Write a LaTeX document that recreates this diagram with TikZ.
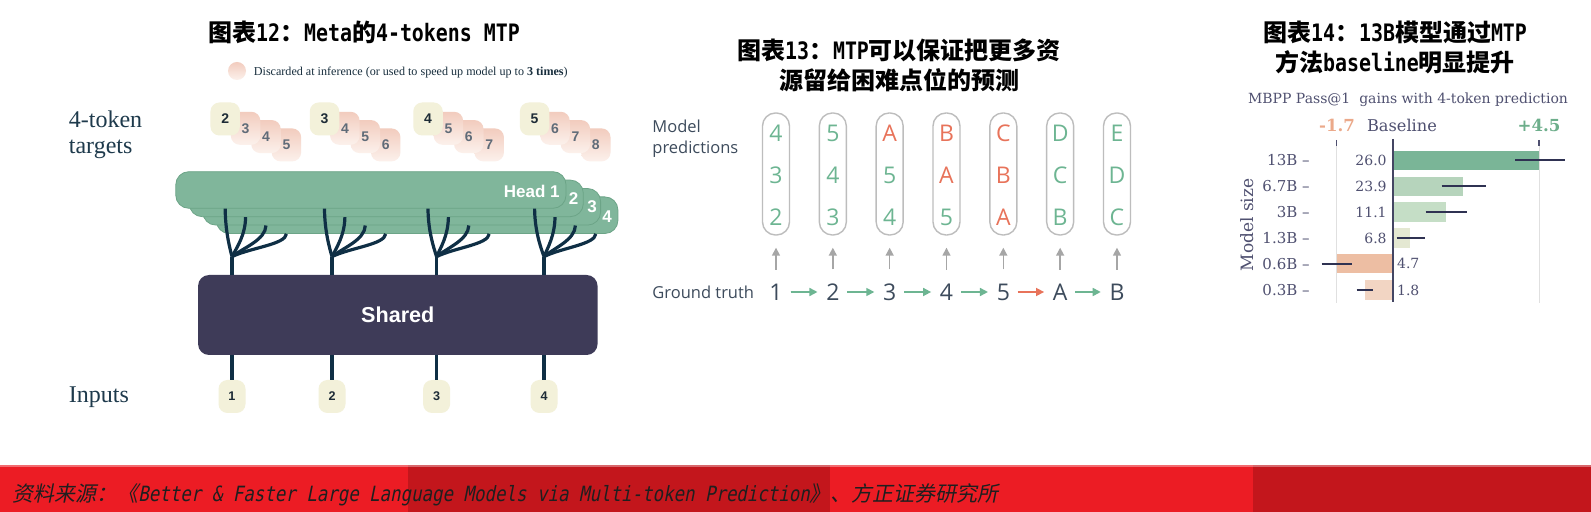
\documentclass[tikz,border=0pt]{standalone}
\usepackage{fontspec}
\usetikzlibrary{arrows.meta}
\setmainfont{Liberation Serif}
\newfontfamily\cjk{Noto Sans CJK SC}
\newfontfamily\cjkit{Noto Sans CJK SC}[FakeSlant=0.2]
\newfontfamily\tmono{DejaVu Sans Mono}[FakeStretch=0.83]
\newfontfamily\monoit{DejaVu Sans Mono}[FakeSlant=0.2,FakeStretch=0.83]
\newfontfamily\lsans{Liberation Sans}
\newfontfamily\osans{Open Sans}
\newfontfamily\dvs{DejaVu Serif}
\newcommand\lat[1]{{\tmono\bfseries #1}}
\pgfdeclarelayer{bg}\pgfdeclarelayer{stems}
\pgfsetlayers{bg,stems,main}
\definecolor{lbg}{HTML}{F4F4F4}
\definecolor{mbg}{HTML}{F8F8F8}
\definecolor{cream}{HTML}{F3F1DA}
\definecolor{pinkA}{HTML}{F2CCBE}
\definecolor{pinkB}{HTML}{FCF1EC}
\definecolor{tokdark}{HTML}{1D2B36}
\definecolor{tokgray}{HTML}{5F6B78}
\definecolor{stemc}{HTML}{3C7E69}
\definecolor{treec}{HTML}{0F2F45}
\definecolor{headc}{HTML}{80B69B}
\definecolor{headd}{HTML}{6CA487}
\definecolor{sharedc}{HTML}{3E3B58}
\definecolor{navy}{HTML}{1E3A4C}
\definecolor{mg}{HTML}{6DB592}
\definecolor{mo}{HTML}{E8735A}
\definecolor{mtext}{HTML}{3D4B5C}
\definecolor{boxc}{HTML}{BDBDBD}
\definecolor{arrg}{HTML}{A6A6A6}
\definecolor{ctext}{HTML}{4F5070}
\definecolor{cneg}{HTML}{EBA98A}
\definecolor{cpos}{HTML}{6DAE8B}
\definecolor{errc}{HTML}{2F3252}
\definecolor{barA}{HTML}{7AB597}
\definecolor{barB}{HTML}{B6D4BC}
\definecolor{barC}{HTML}{C5DEC6}
\definecolor{barD}{HTML}{E4E8D2}
\definecolor{barE}{HTML}{EDBEA3}
\definecolor{barF}{HTML}{F2D5C3}
\definecolor{redA}{HTML}{EC1C24}
\definecolor{redB}{HTML}{C3161C}
\tikzset{
  ttl/.style={font=\cjk\bfseries\fontsize{12}{15}\selectfont, align=center, inner sep=0pt, text=black},
  tok/.style={rounded corners=4.5pt, minimum width=14.75pt, minimum height=16.5pt, inner sep=0pt,
    font=\lsans\bfseries\fontsize{7}{8}\selectfont},
  maintok/.style={tok, fill=cream, text=tokdark},
  pinktok/.style={tok, top color=pinkA, bottom color=pinkB, text=tokgray},
  inbox/.style={rounded corners=4.5pt, minimum width=13.5pt, minimum height=16.5pt, inner sep=0pt,
    fill=cream, text=tokdark, font=\lsans\bfseries\fontsize{6.3}{7}\selectfont},
  headbox/.style={rounded corners=6.5pt, minimum height=18.3pt, inner sep=0pt, fill=headc, draw=headd, line width=0.4pt},
  headlbl/.style={inner sep=0pt, text=white, font=\lsans\bfseries\fontsize{8.5}{9}\selectfont},
  stemline/.style={draw=stemc, line width=1.6pt},
  treeline/.style={draw=treec, line width=1.6pt},
  serifl/.style={inner sep=0pt, text=navy, font=\fontsize{12}{13.25}\selectfont, align=left},
  predbox/.style={draw=boxc, line width=0.7pt, rounded corners=6.5pt, minimum width=13.5pt, minimum height=61pt, inner sep=0pt},
  predtxt/.style={inner sep=0pt, font=\osans\fontsize{11.5}{12}\selectfont},
  mlabel/.style={inner sep=0pt, text=mtext, font=\osans\fontsize{8.25}{10.5}\selectfont, align=left},
  uparr/.style={draw=arrg, line width=0.75pt, -{Triangle[width=4pt,length=4pt]}},
  harr/.style={line width=0.8pt, -{Triangle[width=4pt,length=4pt]}, shorten <=3.8pt, shorten >=4.2pt},
  ctxt/.style={inner sep=0pt, text=ctext, font=\dvs\fontsize{7}{8}\selectfont},
  ylab/.style={inner sep=0pt, text=ctext, font=\dvs\fontsize{7.5}{8}\selectfont, anchor=east},
  errbar/.style={draw=errc, line width=1pt},
}
\begin{document}
\begin{tikzpicture}[x=0.5pt,y=-0.5pt]
\useasboundingbox (0,0) rectangle (1591,512);
\fill[white] (0,0) rectangle (1591,512);

% ---------------- titles ----------------
\node[ttl] (title12) at (364,32.5) {图表\lat{12}：\lat{Meta}的\lat{4-tokens MTP}};
\node[ttl] (title13) at (899,65) {图表\lat{13}：\lat{MTP}可以保证把更多资\\源留给困难点位的预测};
\node[ttl] (title14) at (1395,47) {图表\lat{14}：\lat{13B}模型通过\lat{MTP}\\方法\lat{baseline}明显提升};

% ---------------- backgrounds ----------------
\begin{pgfonlayer}{bg}
\fill[lbg] (59,59) rectangle (624,418);
\fill[mbg] (640,103) rectangle (1138,307);
\fill[mbg] (1232,87) rectangle (1578,308);
\end{pgfonlayer}

% ---------------- left panel ----------------
\node[circle, minimum size=9pt, inner sep=0pt, top color=pinkA, bottom color=pinkB] (leg) at (237,71) {};
\node[inner sep=0pt, anchor=west, text=navy!80!black, font=\fontsize{6.05}{7}\selectfont] (legt) at (253.5,72.5)
  {Discarded at inference (or used to speed up model up to \textbf{3 times})};

\node[serifl, anchor=west] (lbltarget) at (68.5,135) {4-token\\targets};
\node[serifl, anchor=west] (lblinputs) at (68.5,397) {Inputs};

% heads (back to front)
\node[headbox, minimum width=200.8pt] (h4) at (417.1,215.2) {};
\node[headbox, minimum width=198.9pt] (h3) at (401.7,206.8) {};
\node[headbox, minimum width=197pt]   (h2) at (386.3,198.4) {};
\node[headbox, minimum width=195.1pt] (h1) at (370.9,190) {};
\node[headlbl, anchor=east] (hl1) at (560,191.7) {Head 1};
\node[headlbl] (hl2) at (573.5,198.8) {2};
\node[headlbl] (hl3) at (592,207) {3};
\node[headlbl] (hl4) at (607,216.7) {4};

% shared block
\node[rounded corners=5.5pt, fill=sharedc, minimum width=199.75pt, minimum height=40pt, inner sep=0pt,
  text=white, font=\lsans\bfseries\fontsize{10.8}{12}\selectfont] (sh) at (397.8,315) {Shared};

\foreach \g/\xg/\tx/\n in {1/225.2/232/2, 2/324.5/332/3, 3/428/436.6/4, 4/534.6/544/5} {
  % tokens, back to front
  \foreach \j in {3,2,1} {
    \pgfmathtruncatemacro\num{\n+\j}
    \node[pinktok] (t\g\j) at ({\xg+20.4*\j},{120+8.3*\j}) {\num};
  }
  \node[maintok] (t\g0) at (\xg,119) {\n};
  % stems to heads
  \begin{pgfonlayer}{stems}
  \foreach \j in {0,1,2,3} {
    \pgfmathtruncatemacro\k{\j+1}
    \draw[stemline] (t\g\j.center) -- (t\g\j.center |- h\k.north);
  }
  \end{pgfonlayer}
  % input token and its stem
  \node[inbox] (in\g) at (\tx,396.5) {\g};
  \draw[treeline] (in\g.north) -- (in\g |- sh.south);
  % tree from shared to heads
  \path (in\g |- sh.north) ++(0,-18) coordinate (sp\g);
  \draw[treeline] (in\g |- sh.north) -- (sp\g);
  \foreach \j in {0,1,2,3} {
    \pgfmathtruncatemacro\k{\j+1}
    \pgfmathsetmacro\dx{0.35*(\xg+20.4*\j-\tx)}
    \pgfmathsetmacro\dy{0.45*(257-(208.3+8.4*\j))}
    \draw[treeline] (sp\g) .. controls +(\dx,-9) and +(-0.05*\dx,\dy) .. (t\g\j.center |- h\k.south);
  }
}

% ---------------- middle panel ----------------
\node[mlabel, anchor=west] (mpred) at (652,139) {Model\\predictions};
\node[mlabel, anchor=west] (mtruth) at (652,292) {Ground truth};
\foreach \i/\a/\ca/\b/\cb/\c/\cc/\gt in {0/4/mg/3/mg/2/mg/1, 1/5/mg/4/mg/3/mg/2, 2/A/mo/5/mg/4/mg/3,
    3/B/mo/A/mo/5/mg/4, 4/C/mo/B/mo/A/mo/5, 5/D/mg/C/mg/B/mg/A, 6/E/mg/D/mg/C/mg/B} {
  \pgfmathsetmacro\cx{776+56.83*\i}
  \node[predbox] (b\i) at (\cx,174) {};
  \node[predtxt, text=\ca] (p\i a) at (\cx,133) {\a};
  \node[predtxt, text=\cb] (p\i b) at (\cx,175) {\b};
  \node[predtxt, text=\cc] (p\i c) at (\cx,217) {\c};
  \node[predtxt, text=mtext] (g\i) at (\cx,292) {\gt};
  \draw[uparr] ([yshift=6.9pt]g\i.north) -- ([yshift=-6pt]b\i.south);
}
\foreach \i/\j/\col in {0/1/mg, 1/2/mg, 2/3/mg, 3/4/mg, 4/5/mo, 5/6/mg} {
  \draw[harr, draw=\col, fill=\col] (g\i) -- (g\j);
}

% ---------------- right panel (chart) ----------------
\node[ctxt] (ctitle) at (1408,100) {MBPP Pass@1\ \ gains with 4-token prediction};
\node[inner sep=0pt, text=cneg, font=\dvs\bfseries\fontsize{8.3}{9}\selectfont] (cneg) at (1337,125) {-1.7};
\node[inner sep=0pt, text=ctext, font=\dvs\fontsize{8.1}{9}\selectfont] (cbase) at (1402,125) {Baseline};
\node[inner sep=0pt, text=cpos, font=\dvs\bfseries\fontsize{8.3}{9}\selectfont] (cpos) at (1539,125) {+4.5};
\draw[black!12, line width=0.5pt] (1336.7,146) -- (1336.7,303);
\draw[black!12, line width=0.5pt] (1539,146) -- (1539,303);
\draw[ctext, line width=0.6pt] (1336.7,140) -- (1336.7,146);
\draw[ctext, line width=0.6pt] (1539,140) -- (1539,146);
\fill[barA] (1392.7,150.7) rectangle (1539.3,170);
\fill[barB] (1392.7,176.7) rectangle (1463,196);
\fill[barC] (1392.7,202.3) rectangle (1445.7,221.7);
\fill[barD] (1392.7,228.3) rectangle (1410,247.7);
\fill[barE] (1336.7,254) rectangle (1392.7,273.3);
\fill[barF] (1365,280) rectangle (1392.7,300);
\draw[errbar] (1515,160.4) -- (1565,160.4);
\draw[errbar] (1441.7,186.4) -- (1486,186.4);
\draw[errbar] (1425.7,212) -- (1467.3,212);
\draw[errbar] (1396.7,238) -- (1425,238);
\draw[errbar] (1321.7,263.7) -- (1351.7,263.7);
\draw[errbar] (1356.7,290) -- (1372.7,290);
\draw[errc!90, line width=1pt] (1392.7,139) -- (1392.7,302);
\node[ctxt, anchor=east] (v1) at (1387,160.4) {26.0};
\node[ctxt, anchor=east] (v2) at (1387,186.4) {23.9};
\node[ctxt, anchor=east] (v3) at (1387,212) {11.1};
\node[ctxt, anchor=east] (v4) at (1387,238) {6.8};
\node[ctxt, anchor=west] (v5) at (1396.7,263.7) {4.7};
\node[ctxt, anchor=west] (v6) at (1396.7,290) {1.8};
\node[ylab] (y1) at (1310,160.4) {13B –};
\node[ylab] (y2) at (1310,186.4) {6.7B –};
\node[ylab] (y3) at (1310,212) {3B –};
\node[ylab] (y4) at (1310,238) {1.3B –};
\node[ylab] (y5) at (1310,263.7) {0.6B –};
\node[ylab] (y6) at (1310,290) {0.3B –};
\node[inner sep=0pt, text=ctext, font=\dvs\fontsize{8.5}{9}\selectfont, rotate=90] (ysize) at (1246.7,225) {Model size};

% ---------------- footer ----------------
\fill[redA] (0,465) rectangle (408,512);
\fill[redB] (408,465) rectangle (830,512);
\fill[redA] (830,465) rectangle (1253,512);
\fill[redB] (1253,465) rectangle (1591,512);
\fill[white, opacity=0.35] (0,465) rectangle (1591,467);
\node[inner sep=0pt, anchor=west, text=black!88, font=\fontsize{10.5}{12}\selectfont] (src) at (12,495)
  {{\cjkit 资料来源：《}{\monoit Better \& Faster Large Language Models via Multi-token Prediction}{\cjkit 》、方正证券研究所}};
\end{tikzpicture}
\end{document}
